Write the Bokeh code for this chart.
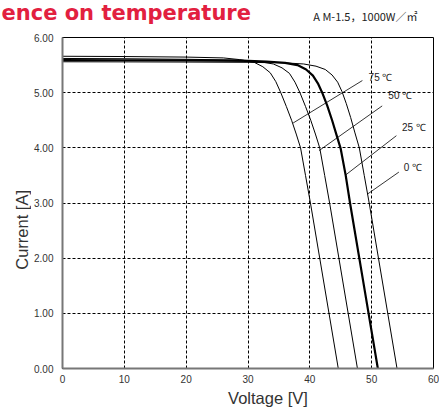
from bokeh.plotting import figure
from bokeh.models import FixedTicker, NumeralTickFormatter, Range1d
from bokeh.layouts import column, row
from bokeh.core.properties import value
from bokeh.embed import file_html
from bokeh.resources import INLINE
import math

# ---- data (Voltage [V], Current [A]) ----
v_75 = [0, 10, 20, 26.0, 28.6, 31.0, 32.4, 33.6, 34.5, 35.3, 36.2, 37.05, 37.8, 38.5, 39.3, 40.1, 41.6, 43.1, 44.6]
i_75 = [5.66, 5.655, 5.645, 5.63, 5.60, 5.55, 5.47, 5.36, 5.20, 5.00, 4.75, 4.50, 4.25, 4.00, 3.50, 3.00, 2.00, 1.00, 0.00]

v_50 = [0, 10, 20, 29.1, 31.7, 34.1, 35.5, 36.7, 37.6, 38.4, 39.3, 40.15, 40.9, 41.6, 42.4, 43.2, 44.7, 46.2, 47.7]
i_50 = [5.62, 5.615, 5.605, 5.59, 5.565, 5.52, 5.45, 5.35, 5.19, 5.00, 4.75, 4.50, 4.25, 4.00, 3.50, 3.00, 2.00, 1.00, 0.00]

v_25 = [0, 10, 20, 30, 33.0, 36.0, 38.0, 39.4, 40.5, 41.3, 42.0, 42.8, 43.6, 44.3, 45.0, 45.8, 46.5, 48.0, 49.5, 51.0]
i_25 = [5.59, 5.588, 5.585, 5.575, 5.565, 5.54, 5.50, 5.42, 5.31, 5.17, 5.00, 4.77, 4.50, 4.24, 3.98, 3.50, 3.00, 2.00, 1.00, 0.00]

v_0 = [0, 10, 20, 30, 36.0, 39.0, 41.0, 42.5, 43.6, 44.5, 45.2, 45.9, 46.6, 47.3, 48.0, 48.8, 49.6, 51.1, 52.6, 54.1]
i_0 = [5.56, 5.558, 5.555, 5.55, 5.54, 5.52, 5.48, 5.42, 5.32, 5.19, 5.02, 4.80, 4.55, 4.27, 4.00, 3.50, 3.00, 2.00, 1.00, 0.00]

x_ticks = [0, 10, 20, 30, 40, 50, 60]
y_ticks = [0, 1, 2, 3, 4, 5, 6]

label_text = ["75 ℃", "50 ℃", "25 ℃", "0 ℃"]
label_v = [49.5, 52.7, 54.9, 55.2]
label_i = [5.27, 4.94, 4.37, 3.65]
lead_v0 = [48.5, 51.7, 54.0, 54.4]
lead_i0 = [5.22, 4.76, 4.22, 3.56]
lead_v1 = [37.3, 41.5, 45.7, 49.3]
lead_i1 = [4.45, 3.95, 3.50, 3.16]

title_text = ["ence on temperature"]
cond_text = ["A M-1.5，1000W／㎡"]
x_title = ["Voltage [V]"]
y_title = ["Current [A]"]

FONT = "Liberation Sans"

W, H = 439, 410
HEAD_H = 25      # header strip
LEFT_W = 31      # strip holding the y-axis title
FOOT_H = 22      # strip holding the x-axis title
MID_H = H - HEAD_H - FOOT_H


def strip(width, height):
    f = figure(width=width, height=height, output_backend="svg", toolbar_location=None,
               x_range=Range1d(0, width), y_range=Range1d(height, 0),
               min_border=0, min_border_left=0, min_border_right=0,
               min_border_top=0, min_border_bottom=0)
    f.title.visible = False
    f.axis.visible = False
    f.grid.visible = False
    f.outline_line_color = None
    f.background_fill_color = "white"
    f.border_fill_color = "white"
    return f


# ---- header strip (title + measuring condition) ----
head = strip(W, HEAD_H)
head.text(x=[1], y=[12.4], text=title_text, text_align="left", text_baseline="middle",
          text_font=value("DejaVu Sans"), text_font_style="bold", text_font_size="21px",
          text_color="#e2203f")
head.text(x=[417], y=[15], text=cond_text, text_align="right", text_baseline="middle",
          text_font=value("Noto Sans CJK JP"), text_font_size="11px", text_color="#222222")

# ---- left strip (y-axis title) ----
left = strip(LEFT_W, MID_H)
left.text(x=[21], y=[236 - HEAD_H], text=y_title, angle=math.pi / 2,
          text_align="center", text_baseline="middle",
          text_font=value(FONT), text_font_size="16.5px", text_color="#333333")

# ---- footer strip (x-axis title) ----
foot = strip(W, FOOT_H)
foot.text(x=[267.5], y=[397.5 - HEAD_H - MID_H], text=x_title,
          text_align="center", text_baseline="middle",
          text_font=value(FONT), text_font_size="16.5px", text_color="#333333")

# ---- main chart ----
p = figure(width=W - LEFT_W, height=MID_H, output_backend="svg", toolbar_location=None,
           x_range=Range1d(0, 60), y_range=Range1d(0, 6),
           min_border_left=61 - LEFT_W, min_border_right=6,
           min_border_top=37 - HEAD_H, min_border_bottom=(HEAD_H + MID_H) - 368)
p.title.visible = False
p.background_fill_color = "white"
p.border_fill_color = "white"
p.outline_line_color = "black"
p.outline_line_width = 1

p.xgrid.ticker = FixedTicker(ticks=[10, 20, 30, 40, 50])
p.ygrid.ticker = FixedTicker(ticks=[1, 2, 3, 4, 5])
for g in (p.xgrid, p.ygrid):
    g.grid_line_color = "black"
    g.grid_line_dash = "3 2"
    g.grid_line_width = 1

p.xaxis.ticker = FixedTicker(ticks=x_ticks)
p.yaxis.ticker = FixedTicker(ticks=y_ticks)
p.yaxis.formatter = NumeralTickFormatter(format="0.00")
for ax in (p.xaxis, p.yaxis):
    ax.major_tick_line_color = None
    ax.minor_tick_line_color = None
    ax.major_tick_out = 0
    ax.major_tick_in = 0
    ax.minor_tick_out = 0
    ax.minor_tick_in = 0
    ax.axis_line_color = "#777777"
    ax.axis_line_width = 2
    ax.major_label_text_font = FONT
    ax.major_label_text_font_size = "10px"
    ax.major_label_text_color = "#333333"
p.xaxis.major_label_standoff = 6
p.yaxis.major_label_standoff = 9

p.line(v_75, i_75, line_color="black", line_width=1)
p.line(v_50, i_50, line_color="black", line_width=1)
p.line(v_0, i_0, line_color="black", line_width=1)
p.line(v_25, i_25, line_color="black", line_width=2.2)

p.segment(x0=lead_v0, y0=lead_i0, x1=lead_v1, y1=lead_i1, line_color="black", line_width=0.8)
p.text(x=label_v, y=label_i, text=label_text, text_font=value(FONT), text_font_size="10px",
       text_baseline="middle", text_align="left", text_color="#222222")

layout = column(head, row(left, p, spacing=0), foot, spacing=0)
open("out.html", "w").write(file_html(layout, INLINE))
